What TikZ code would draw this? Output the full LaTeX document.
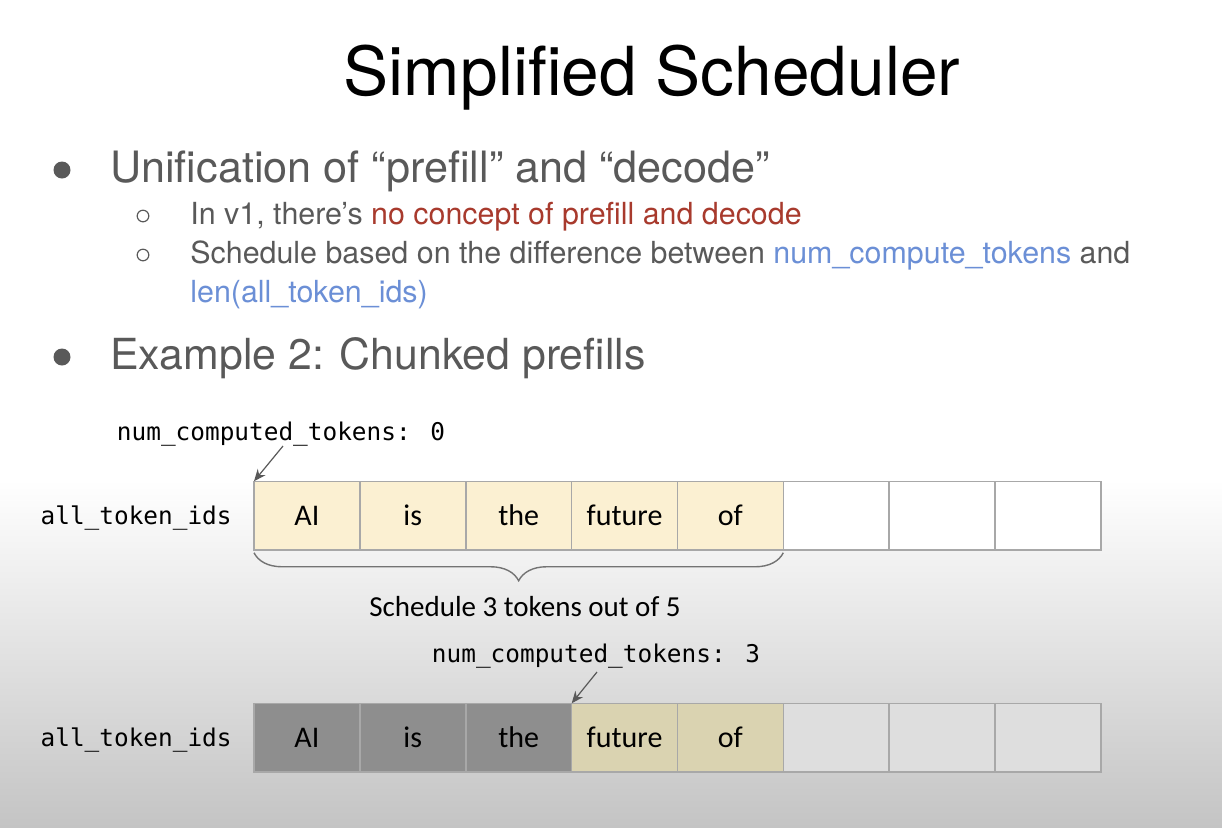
\documentclass[tikz,border=0pt]{standalone}
\usepackage{fontspec}
\setmainfont{TeX Gyre Heros}
\newfontfamily\calfont{Carlito}
\newfontfamily\codefont{DejaVu Sans Mono}
\usetikzlibrary{arrows.meta,decorations.pathreplacing}

\definecolor{bodygray}{HTML}{595959}
\definecolor{redtxt}{HTML}{A83A2D}
\definecolor{bluetxt}{HTML}{6B8FD6}
\definecolor{cellline}{HTML}{A8A8A8}
\definecolor{todo}{HTML}{FBF0D2}
\definecolor{tododim}{HTML}{DAD3B1}
\definecolor{done}{HTML}{8E8E8E}
\definecolor{emptydim}{HTML}{DEDEDE}
\definecolor{bgbot}{HTML}{C4C4C4}

\begin{document}
\begin{tikzpicture}[x=0.5pt,y=-0.5pt,
    tok/.style={draw=cellline,line width=0.75pt,minimum width=52.9pt,
      minimum height=34.25pt,inner sep=0pt,outer sep=0pt,
      font=\calfont\fontsize{15}{18}\selectfont,text height=9.7pt,text depth=0pt},
    codetxt/.style={font=\codefont\fontsize{12.2}{14}\selectfont,inner sep=0pt},
    ptr/.style={draw=black!65,line width=0.6pt,-{Stealth[length=6pt,width=5pt]}},
    brc/.style={draw=black!55,line width=0.7pt,decorate,
      decoration={brace,mirror,amplitude=14pt}}]
  \useasboundingbox (0,0) rectangle (1222,827);

  % background, fading to grey at the bottom
  \fill[white] (0,0) rectangle (1222,480);
  \shade[top color=white,bottom color=bgbot] (0,480) rectangle (1222,827);

  % slide text
  \node (title) [anchor=base,inner sep=0pt,font=\fontsize{33.8}{40}\selectfont] at (652,95) {Simplified Scheduler};

  \fill[bodygray] (62,170) circle[radius=4.25pt];
  \node (unif) [anchor=base west,inner sep=0pt,text=bodygray,font=\fontsize{21.6}{26}\selectfont] at (110,182)
    {Unification of “prefill” and “decode”};

  \draw[bodygray,line width=0.6pt] (143,216) circle[radius=2.9pt];
  \node (v1) [anchor=base west,inner sep=0pt,text=bodygray,font=\fontsize{15.2}{18}\selectfont] at (190,224)
    {In v1, there’s {\color{redtxt}no concept of prefill and decode}};
  \draw[bodygray,line width=0.6pt] (143,255) circle[radius=2.9pt];
  \node (diff) [anchor=base west,inner sep=0pt,text=bodygray,font=\fontsize{15.2}{18}\selectfont] at (190,263)
    {Schedule based on the difference between {\color{bluetxt}num\_compute\_tokens} and};
  \node (len) [anchor=base west,inner sep=0pt,text=bluetxt,font=\fontsize{15.2}{18}\selectfont] at (190,302)
    {len(all\_token\_ids)};

  \fill[bodygray] (62,357) circle[radius=4.25pt];
  \node (ex2) [anchor=base west,inner sep=0pt,text=bodygray,font=\fontsize{21.4}{26}\selectfont] at (110,369)
    {Example 2: Chunked prefills};

  % first step
  \node (lbl1) [codetxt,anchor=base east] at (232,524) {all\_token\_ids};
  \node (a1) [tok,fill=todo] at (306.9,515.5) {AI};
  \node (a2) [tok,fill=todo] at (412.8,515.5) {is};
  \node (a3) [tok,fill=todo] at (518.7,515.5) {the};
  \node (a4) [tok,fill=todo] at (624.6,515.5) {future};
  \node (a5) [tok,fill=todo] at (730.4,515.5) {of};
  \node (a6) [tok,fill=white] at (836.3,515.5) {};
  \node (a7) [tok,fill=white] at (942.2,515.5) {};
  \node (a8) [tok,fill=white] at (1048.1,515.5) {};

  \node (nct0) [codetxt,anchor=base] at (281,440) {num\_computed\_tokens: 0};
  \coordinate (p0) at (283,446);
  \draw[ptr] (p0) -- (a1.north west);

  \draw[brc] ([yshift=-1.5pt]a1.south west) -- ([yshift=-1.5pt]a5.south east);
  \node (sched) [anchor=base,inner sep=0pt,font=\calfont\fontsize{14.5}{17}\selectfont] at (525,616)
    {Schedule 3 tokens out of 5};

  % second step
  \node (lbl2) [codetxt,anchor=base east] at (232,746) {all\_token\_ids};
  \node (b1) [tok,fill=done] at (306.9,737.5) {AI};
  \node (b2) [tok,fill=done] at (412.8,737.5) {is};
  \node (b3) [tok,fill=done] at (518.7,737.5) {the};
  \node (b4) [tok,fill=tododim] at (624.6,737.5) {future};
  \node (b5) [tok,fill=tododim] at (730.4,737.5) {of};
  \node (b6) [tok,fill=emptydim] at (836.3,737.5) {};
  \node (b7) [tok,fill=emptydim] at (942.2,737.5) {};
  \node (b8) [tok,fill=emptydim] at (1048.1,737.5) {};

  \node (nct3) [codetxt,anchor=base] at (596,662) {num\_computed\_tokens: 3};
  \coordinate (p3) at (597,672);
  \draw[ptr] (p3) -- (b4.north west);
\end{tikzpicture}
\end{document}
